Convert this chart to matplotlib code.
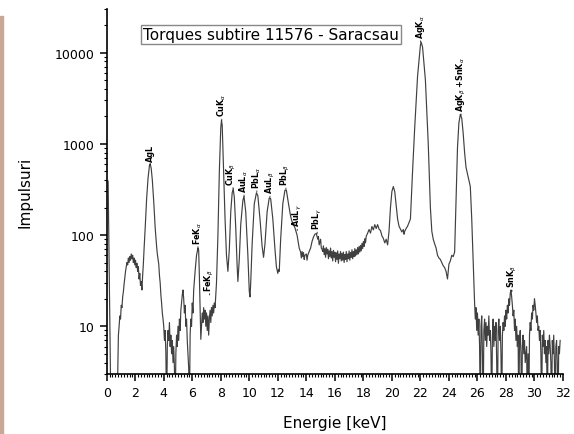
import matplotlib
matplotlib.use("Agg")
import matplotlib.pyplot as plt
from matplotlib.ticker import MultipleLocator, LogLocator, NullFormatter, FixedLocator, FixedFormatter
from matplotlib.patches import Rectangle

plt.rcParams['font.family'] = ['DejaVu Sans']

# ---- spectrum: (energy keV, counts) pairs, by region ----
low_energy = [
    (0.10, 390), (0.30, 1), (0.72, 1), (0.77, 3), (0.82, 8), (0.87, 10), (0.92, 13), (0.97, 12),
    (1.02, 17), (1.07, 16), (1.12, 21), (1.17, 24), (1.22, 29), (1.27, 34), (1.32, 40),
    (1.37, 45), (1.42, 50), (1.47, 47), (1.52, 56), (1.57, 50), (1.62, 58), (1.67, 53),
    (1.72, 62), (1.77, 55), (1.82, 60), (1.87, 50), (1.92, 56), (1.97, 47), (2.02, 53),
    (2.07, 44), (2.12, 49), (2.17, 40), (2.22, 45), (2.27, 33), (2.32, 38), (2.37, 28),
    (2.42, 31), (2.47, 25), (2.52, 36), (2.57, 48), (2.62, 70), (2.70, 120), (2.80, 250),
    (2.90, 420), (3.00, 580), (3.05, 600), (3.12, 540), (3.20, 400), (3.30, 230), (3.40, 120),
    (3.50, 75), (3.55, 62), (3.60, 55), (3.65, 48), (3.70, 36), (3.75, 30), (3.80, 22),
    (3.85, 18), (3.90, 14), (3.95, 12),
]
fe_region = [
    (4.00, 10), (4.05, 7), (4.10, 9), (4.15, 5), (4.20, 1), (4.25, 6), (4.30, 9), (4.35, 7),
    (4.40, 11), (4.45, 6), (4.50, 8), (4.55, 5), (4.60, 7), (4.65, 4), (4.70, 6), (4.75, 3.5),
    (4.80, 1), (4.85, 5), (4.90, 8), (4.95, 6), (5.00, 10), (5.05, 7), (5.10, 12), (5.15, 9),
    (5.20, 15), (5.25, 18), (5.30, 22), (5.35, 25), (5.40, 20), (5.45, 14), (5.50, 17),
    (5.55, 10), (5.60, 12), (5.65, 7), (5.70, 5), (5.75, 3.5), (5.80, 1), (5.85, 8),
    (5.90, 12), (5.95, 10), (6.00, 18), (6.05, 14), (6.10, 25), (6.20, 40), (6.30, 60),
    (6.40, 72), (6.45, 68), (6.50, 35), (6.55, 15), (6.60, 7.2), (6.65, 10), (6.70, 14),
    (6.75, 11), (6.80, 16), (6.85, 12), (6.90, 15), (6.95, 10), (7.00, 14), (7.05, 9),
    (7.10, 13), (7.15, 8), (7.20, 12), (7.25, 15), (7.30, 11), (7.35, 16), (7.40, 13),
    (7.45, 17), (7.50, 14), (7.55, 18), (7.60, 16), (7.70, 30),
]
l_lines_region = [
    (7.80, 100), (7.90, 500), (8.00, 1500), (8.05, 1800), (8.10, 1600), (8.20, 500),
    (8.30, 150), (8.40, 60), (8.50, 40), (8.60, 70), (8.70, 180), (8.80, 290), (8.87, 320),
    (8.95, 260), (9.05, 120), (9.15, 45), (9.20, 31), (9.30, 55), (9.40, 130), (9.55, 240),
    (9.63, 265), (9.75, 180), (9.90, 60), (10.00, 24), (10.05, 21), (10.10, 30), (10.20, 80),
    (10.35, 220), (10.50, 290), (10.60, 270), (10.75, 150), (10.90, 75), (11.00, 57),
    (11.10, 80), (11.25, 180), (11.40, 255), (11.50, 250), (11.65, 150), (11.80, 70),
    (11.90, 45), (12.00, 38), (12.05, 42), (12.10, 40), (12.20, 90), (12.35, 220),
    (12.50, 310), (12.60, 310), (12.75, 220), (12.90, 160), (13.00, 140), (13.10, 130),
    (13.20, 120), (13.35, 100), (13.50, 72), (13.60, 65), (13.65, 56), (13.70, 66),
    (13.75, 58), (13.80, 64), (13.85, 54), (13.90, 60), (14.00, 62), (14.05, 53), (14.10, 60),
    (14.20, 66), (14.30, 72), (14.40, 85), (14.50, 95), (14.60, 102), (14.70, 104),
    (14.80, 90), (14.85, 96), (14.90, 78), (15.00, 90), (15.05, 72),
]
plateau = [
    (15.10, 70), (15.15, 66), (15.20, 76), (15.25, 61), (15.30, 71), (15.35, 57), (15.40, 73),
    (15.45, 62), (15.50, 70), (15.55, 55), (15.60, 67), (15.65, 58), (15.70, 72), (15.75, 56),
    (15.80, 66), (15.85, 52), (15.90, 68), (15.95, 57), (16.00, 65), (16.05, 51), (16.10, 64),
    (16.15, 54), (16.20, 67), (16.25, 49), (16.30, 62), (16.35, 55), (16.40, 66), (16.45, 52),
    (16.50, 63), (16.55, 53), (16.60, 65), (16.65, 50), (16.70, 61), (16.75, 54), (16.80, 66),
    (16.85, 51), (16.90, 62), (16.95, 55), (17.00, 67), (17.05, 53), (17.10, 64), (17.15, 57),
    (17.20, 69), (17.25, 55), (17.30, 66), (17.35, 58), (17.40, 71), (17.45, 59), (17.50, 69),
    (17.55, 61), (17.60, 73), (17.65, 62), (17.70, 75), (17.75, 65), (17.80, 77), (17.85, 67),
    (17.90, 81), (17.95, 71), (18.00, 85), (18.05, 75), (18.10, 91), (18.15, 82), (18.20, 97),
    (18.30, 105), (18.40, 115), (18.50, 105), (18.60, 124), (18.70, 114), (18.80, 130),
    (18.90, 118), (19.00, 130), (19.10, 116), (19.20, 112), (19.30, 98), (19.40, 92),
    (19.50, 82), (19.60, 90), (19.70, 78), (19.80, 110), (19.90, 200), (20.00, 300),
    (20.10, 340), (20.20, 300), (20.30, 210), (20.40, 150), (20.50, 125), (20.60, 116),
    (20.70, 108), (20.80, 115), (20.85, 102), (20.90, 110), (21.00, 118), (21.10, 125),
]
ag_k_region = [
    (21.30, 150), (21.45, 500), (21.60, 1500), (21.80, 5500), (22.00, 12000), (22.05, 13000),
    (22.15, 11500), (22.35, 5000), (22.55, 1000), (22.70, 200), (22.80, 110), (22.90, 90),
    (23.00, 80), (23.10, 72), (23.20, 60), (23.30, 56), (23.40, 54), (23.50, 50), (23.60, 46),
    (23.70, 44), (23.80, 40), (23.90, 33), (24.00, 48), (24.10, 52), (24.20, 60), (24.30, 58),
    (24.40, 65), (24.50, 250), (24.60, 900), (24.70, 1700), (24.80, 2100), (24.90, 1900),
    (25.00, 1300), (25.10, 800), (25.20, 550), (25.30, 470), (25.40, 400), (25.50, 340),
    (25.60, 150), (25.70, 50), (25.80, 18),
]
high_energy = [
    (25.85, 12), (25.90, 16), (25.95, 9), (26.00, 14), (26.05, 8), (26.10, 12), (26.15, 6),
    (26.20, 1), (26.25, 10), (26.30, 13), (26.35, 5), (26.40, 1), (26.45, 9), (26.50, 12),
    (26.55, 7), (26.60, 11), (26.65, 6), (26.70, 10), (26.75, 8), (26.80, 13), (26.85, 7),
    (26.90, 9), (26.95, 5), (27.00, 1), (27.05, 8), (27.10, 12), (27.15, 6), (27.20, 10),
    (27.25, 7), (27.30, 11), (27.35, 4), (27.40, 1), (27.45, 9), (27.50, 12), (27.55, 7),
    (27.60, 10), (27.65, 5), (27.70, 1), (27.75, 8), (27.80, 11), (27.85, 9), (27.90, 13),
    (27.95, 10), (28.00, 15), (28.05, 12), (28.10, 17), (28.15, 14), (28.20, 20), (28.25, 17),
    (28.30, 23), (28.35, 25), (28.40, 21), (28.45, 17), (28.50, 13), (28.55, 15), (28.60, 9),
    (28.65, 12), (28.70, 7), (28.75, 10), (28.80, 6), (28.85, 8), (28.90, 1), (28.95, 7),
    (29.00, 9), (29.05, 5), (29.10, 1), (29.15, 6), (29.20, 8), (29.25, 5), (29.30, 7),
    (29.35, 4), (29.45, 6), (29.50, 1), (29.55, 5), (29.60, 1), (29.65, 8), (29.70, 11),
    (29.75, 9), (29.80, 14), (29.85, 12), (29.90, 17), (29.95, 15), (30.00, 20), (30.05, 17),
    (30.10, 14), (30.15, 11), (30.20, 13), (30.25, 9), (30.30, 10), (30.35, 7), (30.40, 9),
    (30.45, 5), (30.50, 1), (30.55, 8), (30.60, 6), (30.65, 9), (30.70, 5), (30.75, 7),
    (30.80, 4), (30.85, 6), (30.90, 1), (30.95, 7), (31.00, 5), (31.05, 8), (31.10, 6),
    (31.15, 4), (31.20, 1), (31.25, 7), (31.30, 5), (31.35, 8), (31.40, 4), (31.45, 1),
    (31.50, 6), (31.55, 7), (31.60, 4), (31.65, 1), (31.70, 6), (31.75, 5), (31.80, 7),
]

# ---- peak labels ----
peak_labels = ['AgL', r'FeK$_\alpha$', r'FeK$_\beta$', r'CuK$_\alpha$', r'CuK$_\beta$',
               r'AuL$_\alpha$', r'PbL$_\alpha$', r'AuL$_\beta$', r'PbL$_\beta$',
               r'AuL$_\gamma$', r'PbL$_\gamma$', r'AgK$_\alpha$',
               r'AgK$_\beta$ +SnK$_\alpha$', r'SnK$_\beta$']
peak_energy = [3.05, 6.40, 7.22, 8.07, 8.87, 9.63, 10.53, 11.45, 12.57,
               13.36, 14.76, 22.02, 24.85, 28.42]
peak_counts = [590, 72, 22, 1800, 320, 265, 295, 258, 316,
               112, 104, 13000, 2050, 24]

title_text = 'Torques subtire 11576 - Saracsau'
x_ticks = list(range(0, 33, 2))
y_ticks = [10, 100, 1000, 10000]
y_tick_labels = ['10', '100', '1000', '10000']

points = low_energy + fe_region + l_lines_region + plateau + ag_k_region + high_energy
energy = [p[0] for p in points]
counts = [p[1] for p in points]

W, H = 574, 435
fig = plt.figure(figsize=(W / 100, H / 100), dpi=100)
ax = fig.add_axes([106.7 / W, 1 - 375 / H, (563 - 106.7) / W, (375 - 10) / H])

ax.plot(energy, counts, color='#404040', lw=0.85)
ax.set_yscale('log')
ax.set_xlim(0, 32)
ax.set_ylim(3, 30000)

for s in ['top', 'right']:
    ax.spines[s].set_visible(False)
for s in ['left', 'bottom']:
    ax.spines[s].set_linewidth(1.2)

ax.xaxis.set_major_locator(FixedLocator(x_ticks))
ax.xaxis.set_major_formatter(FixedFormatter([str(t) for t in x_ticks]))
ax.xaxis.set_minor_locator(MultipleLocator(0.2))
ax.yaxis.set_major_locator(FixedLocator(y_ticks))
ax.yaxis.set_major_formatter(FixedFormatter(y_tick_labels))
ax.yaxis.set_minor_locator(LogLocator(base=10, subs=range(2, 10)))
ax.yaxis.set_minor_formatter(NullFormatter())
ax.tick_params(which='major', direction='out', length=5, width=1.1, labelsize=9, pad=4)
ax.tick_params(which='minor', direction='out', length=2.5, width=0.8)

ax.set_xlabel('Energie [keV]', fontsize=11, labelpad=11)
ax.set_ylabel('Impulsuri', fontsize=11, labelpad=16)

for i, (txt, e, c) in enumerate(zip(peak_labels, peak_energy, peak_counts)):
    dx = -1.2 if i == 4 else 0.0
    ax.annotate(txt, xy=(e, c), xytext=(dx, 3), textcoords='offset points',
                rotation=90, ha='center', va='bottom', fontsize=5.8, fontweight='bold',
                arrowprops=dict(arrowstyle='-', lw=0.6, color='#222222', shrinkA=0, shrinkB=0))

ax.text(0.36, 0.930, title_text, transform=ax.transAxes, ha='center', va='center',
        fontsize=11, bbox=dict(boxstyle='square,pad=0.15', fc='white', ec='#888888', lw=1.0))

fig.patches.append(Rectangle((0, 0), 3 / W, (H - 17) / H, transform=fig.transFigure,
                             color='#c9a797', zorder=0))

fig.savefig('out.png', dpi=100)
